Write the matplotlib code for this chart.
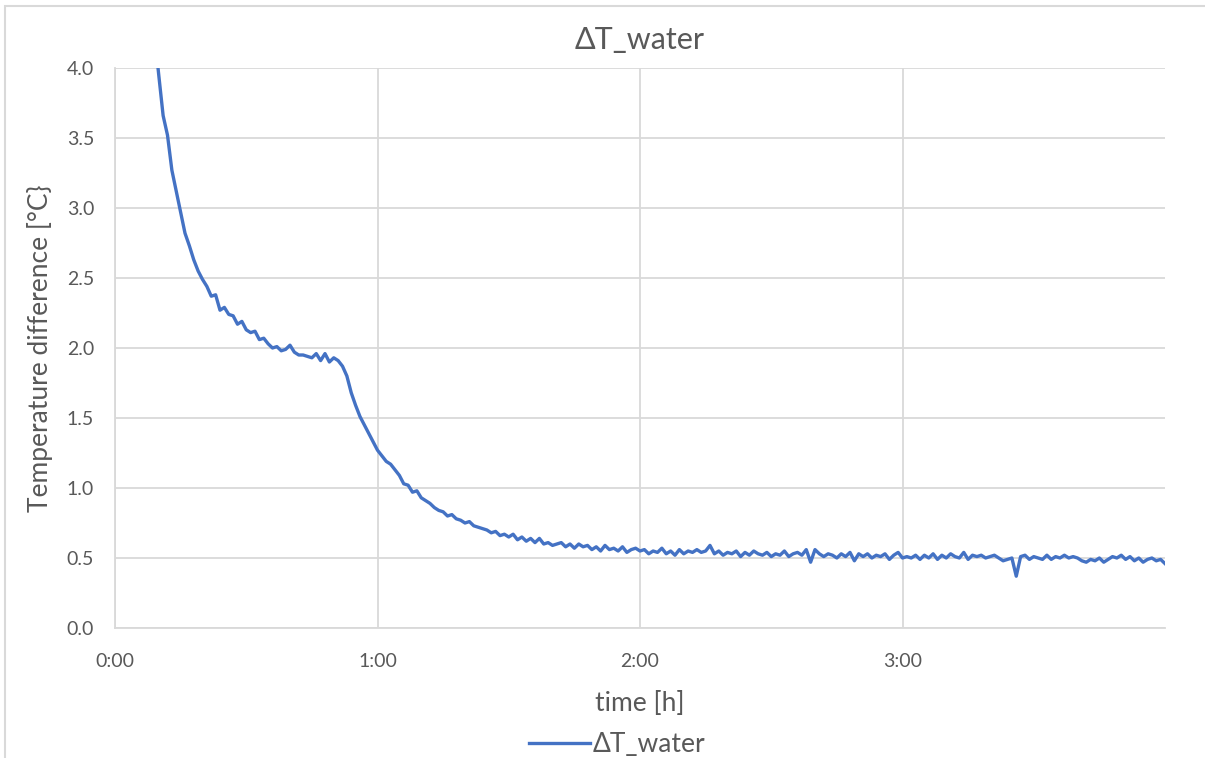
import matplotlib
matplotlib.use('Agg')
import matplotlib.pyplot as plt
from matplotlib.patches import Rectangle
from matplotlib.ticker import FuncFormatter

plt.rcParams['font.family'] = ['Lato', 'DejaVu Sans']

# data, one value per minute starting at minute 8
start_min = 8
dT_water = [
    4.60, 4.25, 3.95, 3.66, 3.52, 3.27, 3.12, 2.97, 2.82, 2.73,
    2.63, 2.55, 2.49, 2.44, 2.37, 2.38, 2.27, 2.29, 2.24, 2.23,
    2.17, 2.19, 2.13, 2.11, 2.12, 2.06, 2.07, 2.03, 2.00, 2.01,
    1.98, 1.99, 2.02, 1.97, 1.95, 1.95, 1.94, 1.93, 1.96, 1.91,
    1.96, 1.90, 1.93, 1.91, 1.87, 1.80, 1.68, 1.59, 1.51, 1.45,
    1.39, 1.33, 1.27, 1.23, 1.19, 1.17, 1.13, 1.09, 1.03, 1.02,
    0.97, 0.98, 0.93, 0.91, 0.89, 0.86, 0.84, 0.83, 0.80, 0.81,
    0.78, 0.77, 0.75, 0.76, 0.73, 0.72, 0.71, 0.70, 0.68, 0.69,
    0.66, 0.67, 0.65, 0.67, 0.63, 0.65, 0.62, 0.64, 0.61, 0.64,
    0.60, 0.61, 0.59, 0.60, 0.61, 0.58, 0.60, 0.57, 0.60, 0.58,
    0.59, 0.56, 0.58, 0.55, 0.59, 0.56, 0.57, 0.55, 0.58, 0.54,
    0.56, 0.57, 0.55, 0.56, 0.53, 0.55, 0.54, 0.57, 0.53, 0.55,
    0.52, 0.56, 0.53, 0.55, 0.54, 0.56, 0.54, 0.55, 0.59, 0.53,
    0.55, 0.52, 0.54, 0.53, 0.55, 0.51, 0.54, 0.52, 0.55, 0.53,
    0.52, 0.54, 0.51, 0.53, 0.52, 0.55, 0.51, 0.53, 0.54, 0.52,
    0.56, 0.47, 0.56, 0.53, 0.51, 0.53, 0.52, 0.50, 0.53, 0.51,
    0.54, 0.48, 0.53, 0.51, 0.53, 0.50, 0.52, 0.51, 0.53, 0.49,
    0.52, 0.54, 0.50, 0.51, 0.50, 0.52, 0.49, 0.52, 0.50, 0.53,
    0.49, 0.52, 0.50, 0.53, 0.51, 0.50, 0.54, 0.49, 0.52, 0.51,
    0.52, 0.50, 0.51, 0.52, 0.50, 0.48, 0.49, 0.50, 0.37, 0.51,
    0.52, 0.49, 0.51, 0.50, 0.49, 0.52, 0.49, 0.51, 0.50, 0.52,
    0.50, 0.51, 0.50, 0.48, 0.47, 0.49, 0.48, 0.50, 0.47, 0.49,
    0.51, 0.50, 0.52, 0.49, 0.51, 0.48, 0.50, 0.47, 0.49, 0.50,
    0.48, 0.49, 0.46,
]
time_h = [(start_min + i) / 60 for i in range(len(dT_water))]

x_ticks = [0, 1, 2, 3]
y_ticks = [0.0, 0.5, 1.0, 1.5, 2.0, 2.5, 3.0, 3.5, 4.0]

text_col = '#595959'
grid_col = '#d9d9d9'
line_col = '#4472c4'

fig = plt.figure(figsize=(12.05, 7.58), dpi=100)
fig.patches.append(Rectangle((5 / 1205, -0.05), 1.1, 1 - 6 / 758 + 0.05,
                             transform=fig.transFigure, fill=False,
                             edgecolor=grid_col, linewidth=1.5))

ax = fig.add_axes([115 / 1205, 1 - 628 / 758, 1050 / 1205, 560 / 758])
ax.plot(time_h, dT_water, color=line_col, linewidth=2.4, label='ΔT_water',
        solid_joinstyle='round')

ax.set_xlim(0, 4.0)
ax.set_ylim(0, 4.0)
ax.set_xticks(x_ticks)
ax.set_yticks(y_ticks)
ax.xaxis.set_major_formatter(FuncFormatter(lambda v, p: f"{int(v)}:{int(round((v % 1) * 60)):02d}"))
ax.yaxis.set_major_formatter(FuncFormatter(lambda v, p: f"{v:.1f}"))
ax.grid(True, color=grid_col, linewidth=1.3)
ax.set_axisbelow(True)
for s in ['top', 'right']:
    ax.spines[s].set_visible(False)
for s in ['left', 'bottom']:
    ax.spines[s].set_color(grid_col)
    ax.spines[s].set_linewidth(1.3)
ax.tick_params(length=0, labelsize=14, colors=text_col)
ax.tick_params(axis='y', pad=15)
ax.tick_params(axis='x', pad=18)

ax.set_title('ΔT_water', fontsize=22, color=text_col, pad=14)
ax.set_xlabel('time [h]', fontsize=19, color=text_col, labelpad=15)
ax.set_ylabel('Temperature difference [°C}', fontsize=19, color=text_col, labelpad=10)

fig.legend(loc='center', bbox_to_anchor=(617 / 1205, 1 - 745 / 758), frameon=False,
           fontsize=19, labelcolor=text_col, handlelength=2.3, handletextpad=0.1)

fig.savefig('out.png', dpi=100)
